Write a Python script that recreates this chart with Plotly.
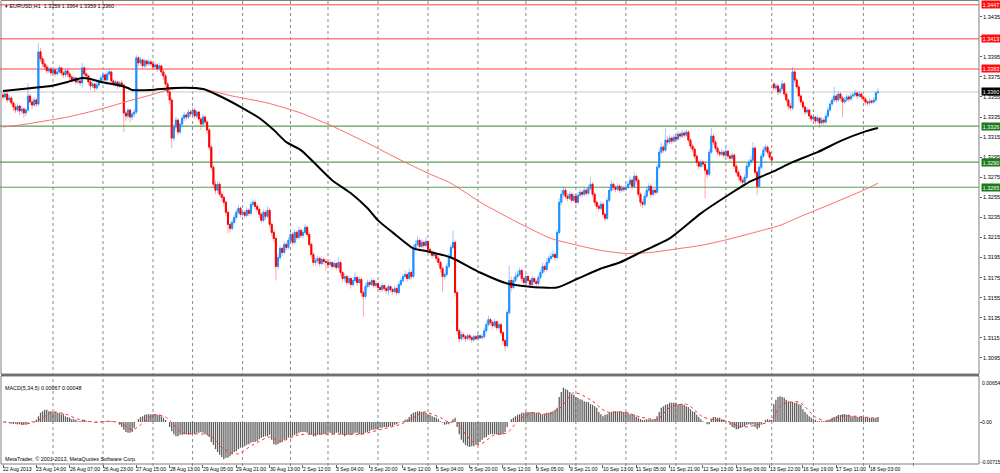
import plotly.graph_objects as go

# ---------------- data (EURUSD H1) ----------------
opens = [
1.3357,1.3355,1.3358,1.3352,1.3354,1.3349,1.3345,1.3342,1.3346,1.3341,
1.3343,1.3339,1.3342,1.3356,1.3350,1.3347,1.3352,1.3348,1.3400,1.3393,
1.3388,1.3385,1.3381,1.3383,1.3379,1.3382,1.3378,1.3380,1.3384,1.3379,
1.3377,1.3381,1.3378,1.3375,1.3372,1.3374,1.3370,1.3371,1.3369,1.3384,
1.3378,1.3376,1.3370,1.3366,1.3368,1.3364,1.3367,1.3371,1.3374,1.3377,
1.3372,1.3378,1.3380,1.3371,1.3368,1.3370,1.3366,1.3369,1.3367,1.3339,
1.3336,1.3342,1.3335,1.3338,1.3340,1.3394,1.3389,1.3392,1.3386,1.3391,
1.3388,1.3390,1.3388,1.3385,1.3387,1.3383,1.3386,1.3380,1.3376,1.3368,
1.3360,1.3352,1.3314,1.3325,1.3332,1.3320,1.3328,1.3334,1.3337,1.3335,
1.3340,1.3338,1.3342,1.3336,1.3340,1.3333,1.3328,1.3335,1.3330,1.3322,
1.3305,1.3285,1.3268,1.3262,1.3268,1.3258,1.3255,1.3250,1.3240,1.3228,
1.3224,1.3230,1.3235,1.3240,1.3244,1.3238,1.3240,1.3237,1.3242,1.3239,
1.3248,1.3250,1.3246,1.3243,1.3238,1.3232,1.3240,1.3236,1.3242,1.3228,
1.3220,1.3214,1.3186,1.3195,1.3204,1.3200,1.3208,1.3205,1.3212,1.3218,
1.3210,1.3220,1.3215,1.3222,1.3217,1.3220,1.3225,1.3218,1.3208,1.3198,
1.3190,1.3192,1.3194,1.3189,1.3193,1.3191,1.3190,1.3188,1.3190,1.3186,
1.3189,1.3185,1.3190,1.3180,1.3174,1.3176,1.3170,1.3174,1.3168,1.3172,
1.3175,1.3170,1.3173,1.3160,1.3156,1.3166,1.3170,1.3168,1.3172,1.3167,
1.3169,1.3165,1.3163,1.3167,1.3164,1.3162,1.3166,1.3163,1.3161,1.3164,
1.3160,1.3168,1.3172,1.3176,1.3178,1.3174,1.3180,1.3176,1.3203,1.3208,
1.3212,1.3206,1.3210,1.3207,1.3211,1.3203,1.3200,1.3197,1.3199,1.3194,
1.3190,1.3184,1.3176,1.3178,1.3186,1.3196,1.3205,1.3210,1.3160,1.3122,
1.3114,1.3118,1.3116,1.3114,1.3117,1.3115,1.3113,1.3116,1.3114,1.3117,
1.3115,1.3116,1.3122,1.3128,1.3133,1.3130,1.3127,1.3131,1.3125,1.3128,
1.3120,1.3112,1.3107,1.3140,1.3172,1.3165,1.3172,1.3176,1.3178,1.3182,
1.3174,1.3170,1.3176,1.3172,1.3168,1.3174,1.3171,1.3169,1.3175,1.3180,
1.3186,1.3183,1.3190,1.3194,1.3196,1.3198,1.3195,1.3220,1.3250,1.3258,
1.3262,1.3256,1.3254,1.3258,1.3252,1.3256,1.3250,1.3257,1.3260,1.3258,
1.3262,1.3259,1.3264,1.3268,1.3258,1.3250,1.3246,1.3244,1.3248,1.3238,
1.3234,1.3252,1.3262,1.3268,1.3265,1.3263,1.3266,1.3262,1.3264,1.3263,
1.3265,1.3268,1.3272,1.3266,1.3276,1.3272,1.3258,1.3250,1.3248,1.3256,
1.3262,1.3266,1.3258,1.3262,1.3260,1.3285,1.3300,1.3305,1.3302,1.3312,
1.3310,1.3314,1.3311,1.3315,1.3313,1.3318,1.3316,1.3319,1.3317,1.3320,
1.3312,1.3306,1.3303,1.3296,1.3290,1.3286,1.3290,1.3288,1.3282,1.3278,
1.3300,1.3316,1.3310,1.3304,1.3300,1.3298,1.3300,1.3297,1.3301,1.3296,
1.3294,1.3297,1.3286,1.3280,1.3276,1.3272,1.3270,1.3275,1.3286,1.3290,
1.3292,1.3304,1.3280,1.3266,1.3285,1.3296,1.3302,1.3305,1.3300,1.3295,
1.3368,1.3364,1.3366,1.3360,1.3363,1.3368,1.3358,1.3352,1.3346,1.3344,
1.3380,1.3372,1.3365,1.3356,1.3350,1.3345,1.3340,1.3342,1.3336,1.3333,
1.3335,1.3331,1.3334,1.3329,1.3332,1.3330,1.3336,1.3342,1.3348,1.3352,
1.3356,1.3352,1.3358,1.3354,1.3350,1.3352,1.3355,1.3353,1.3356,1.3357,
1.3359,1.3356,1.3358,1.3355,1.3353,1.3350,1.3349,1.3351,1.3350,1.3352,
1.3359]

highs = [
1.3360,1.3361,1.3360,1.3357,1.3356,1.3351,1.3348,1.3349,1.3347,1.3346,
1.3345,1.3344,1.3369,1.3358,1.3353,1.3355,1.3354,1.3409,1.3404,1.3396,
1.3391,1.3387,1.3386,1.3385,1.3384,1.3384,1.3383,1.3387,1.3385,1.3381,
1.3383,1.3382,1.3380,1.3377,1.3376,1.3375,1.3373,1.3372,1.3389,1.3386,
1.3380,1.3377,1.3372,1.3371,1.3369,1.3370,1.3373,1.3377,1.3380,1.3378,
1.3381,1.3383,1.3381,1.3373,1.3372,1.3371,1.3371,1.3372,1.3368,1.3342,
1.3344,1.3343,1.3340,1.3343,1.3397,1.3396,1.3395,1.3393,1.3393,1.3392,
1.3393,1.3392,1.3390,1.3390,1.3388,1.3389,1.3387,1.3382,1.3378,1.3370,
1.3362,1.3354,1.3328,1.3335,1.3334,1.3331,1.3337,1.3340,1.3339,1.3343,
1.3342,1.3345,1.3344,1.3342,1.3341,1.3335,1.3338,1.3337,1.3332,1.3324,
1.3307,1.3287,1.3272,1.3271,1.3270,1.3261,1.3257,1.3252,1.3242,1.3231,
1.3233,1.3238,1.3243,1.3247,1.3246,1.3243,1.3242,1.3245,1.3244,1.3251,
1.3253,1.3252,1.3248,1.3245,1.3240,1.3243,1.3242,1.3246,1.3244,1.3230,
1.3223,1.3216,1.3199,1.3207,1.3206,1.3211,1.3210,1.3215,1.3222,1.3220,
1.3223,1.3222,1.3226,1.3224,1.3223,1.3228,1.3227,1.3220,1.3210,1.3200,
1.3195,1.3197,1.3196,1.3196,1.3195,1.3194,1.3192,1.3193,1.3191,1.3192,
1.3190,1.3195,1.3192,1.3182,1.3179,1.3178,1.3177,1.3175,1.3175,1.3180,
1.3177,1.3176,1.3175,1.3162,1.3169,1.3173,1.3172,1.3175,1.3174,1.3172,
1.3171,1.3167,1.3170,1.3168,1.3166,1.3168,1.3167,1.3165,1.3167,1.3166,
1.3171,1.3175,1.3179,1.3182,1.3180,1.3184,1.3182,1.3208,1.3212,1.3216,
1.3214,1.3213,1.3212,1.3215,1.3212,1.3205,1.3202,1.3202,1.3200,1.3196,
1.3192,1.3186,1.3181,1.3189,1.3199,1.3208,1.3222,1.3212,1.3162,1.3124,
1.3121,1.3120,1.3118,1.3119,1.3119,1.3117,1.3118,1.3118,1.3120,1.3118,
1.3119,1.3125,1.3131,1.3137,1.3135,1.3132,1.3134,1.3132,1.3131,1.3130,
1.3122,1.3114,1.3143,1.3187,1.3176,1.3175,1.3180,1.3182,1.3185,1.3184,
1.3176,1.3179,1.3178,1.3174,1.3177,1.3176,1.3173,1.3178,1.3183,1.3190,
1.3188,1.3194,1.3197,1.3200,1.3202,1.3200,1.3223,1.3254,1.3262,1.3266,
1.3264,1.3259,1.3261,1.3260,1.3259,1.3258,1.3260,1.3263,1.3262,1.3265,
1.3264,1.3267,1.3275,1.3270,1.3260,1.3252,1.3249,1.3251,1.3250,1.3240,
1.3255,1.3265,1.3272,1.3270,1.3267,1.3269,1.3268,1.3267,1.3266,1.3268,
1.3271,1.3276,1.3274,1.3280,1.3278,1.3274,1.3260,1.3253,1.3259,1.3265,
1.3269,1.3268,1.3265,1.3264,1.3288,1.3304,1.3309,1.3307,1.3324,1.3316,
1.3317,1.3316,1.3318,1.3317,1.3321,1.3320,1.3322,1.3321,1.3323,1.3322,
1.3314,1.3308,1.3305,1.3298,1.3292,1.3293,1.3292,1.3290,1.3284,1.3303,
1.3324,1.3318,1.3312,1.3306,1.3302,1.3303,1.3302,1.3304,1.3302,1.3298,
1.3300,1.3299,1.3288,1.3282,1.3278,1.3274,1.3278,1.3289,1.3293,1.3296,
1.3310,1.3306,1.3282,1.3288,1.3299,1.3306,1.3308,1.3307,1.3302,1.3297,
1.3370,1.3369,1.3368,1.3366,1.3372,1.3370,1.3360,1.3354,1.3349,1.3385,
1.3382,1.3374,1.3367,1.3358,1.3352,1.3347,1.3345,1.3343,1.3338,1.3338,
1.3336,1.3337,1.3335,1.3335,1.3334,1.3339,1.3345,1.3351,1.3355,1.3365,
1.3358,1.3361,1.3360,1.3356,1.3355,1.3358,1.3357,1.3359,1.3360,1.3362,
1.3361,1.3361,1.3360,1.3357,1.3355,1.3352,1.3354,1.3353,1.3355,1.3361,
1.3364]

lows = [
1.3352,1.3353,1.3349,1.3350,1.3347,1.3341,1.3339,1.3340,1.3337,1.3338,
1.3334,1.3336,1.3340,1.3347,1.3343,1.3345,1.3345,1.3346,1.3390,1.3385,
1.3382,1.3378,1.3379,1.3376,1.3377,1.3375,1.3376,1.3378,1.3376,1.3374,
1.3375,1.3375,1.3372,1.3369,1.3370,1.3367,1.3368,1.3366,1.3364,1.3375,
1.3373,1.3367,1.3362,1.3364,1.3360,1.3362,1.3365,1.3369,1.3372,1.3369,
1.3370,1.3376,1.3369,1.3366,1.3365,1.3363,1.3364,1.3365,1.3320,1.3331,
1.3333,1.3330,1.3332,1.3335,1.3338,1.3386,1.3387,1.3383,1.3384,1.3385,
1.3386,1.3385,1.3382,1.3383,1.3380,1.3381,1.3377,1.3372,1.3365,1.3356,
1.3348,1.3304,1.3311,1.3322,1.3317,1.3318,1.3326,1.3331,1.3332,1.3333,
1.3335,1.3336,1.3333,1.3334,1.3330,1.3322,1.3326,1.3327,1.3318,1.3302,
1.3282,1.3264,1.3258,1.3259,1.3255,1.3251,1.3246,1.3236,1.3219,1.3220,
1.3222,1.3228,1.3233,1.3238,1.3235,1.3236,1.3234,1.3235,1.3236,1.3237,
1.3245,1.3243,1.3240,1.3234,1.3229,1.3230,1.3233,1.3234,1.3225,1.3216,
1.3210,1.3172,1.3183,1.3192,1.3196,1.3198,1.3202,1.3203,1.3210,1.3207,
1.3208,1.3212,1.3213,1.3214,1.3214,1.3218,1.3215,1.3205,1.3194,1.3186,
1.3187,1.3189,1.3186,1.3187,1.3188,1.3182,1.3185,1.3186,1.3183,1.3184,
1.3182,1.3183,1.3177,1.3170,1.3171,1.3167,1.3168,1.3164,1.3166,1.3170,
1.3167,1.3168,1.3156,1.3136,1.3154,1.3164,1.3165,1.3166,1.3164,1.3165,
1.3162,1.3160,1.3161,1.3161,1.3159,1.3157,1.3160,1.3158,1.3159,1.3157,
1.3158,1.3166,1.3170,1.3174,1.3171,1.3172,1.3173,1.3174,1.3201,1.3206,
1.3203,1.3204,1.3204,1.3205,1.3200,1.3197,1.3194,1.3195,1.3191,1.3187,
1.3180,1.3160,1.3173,1.3176,1.3184,1.3194,1.3203,1.3156,1.3118,1.3110,
1.3112,1.3113,1.3111,1.3112,1.3112,1.3110,1.3111,1.3112,1.3112,1.3113,
1.3113,1.3114,1.3120,1.3126,1.3127,1.3124,1.3125,1.3122,1.3123,1.3117,
1.3108,1.3102,1.3105,1.3138,1.3161,1.3163,1.3170,1.3174,1.3176,1.3171,
1.3167,1.3168,1.3169,1.3165,1.3166,1.3168,1.3166,1.3167,1.3173,1.3178,
1.3180,1.3181,1.3188,1.3192,1.3194,1.3192,1.3193,1.3218,1.3247,1.3255,
1.3253,1.3251,1.3252,1.3249,1.3250,1.3247,1.3248,1.3255,1.3255,1.3256,
1.3257,1.3257,1.3262,1.3255,1.3247,1.3243,1.3241,1.3242,1.3235,1.3231,
1.3232,1.3250,1.3260,1.3262,1.3260,1.3261,1.3259,1.3260,1.3260,1.3261,
1.3263,1.3266,1.3263,1.3264,1.3269,1.3255,1.3246,1.3244,1.3246,1.3254,
1.3260,1.3255,1.3256,1.3257,1.3258,1.3283,1.3298,1.3299,1.3300,1.3307,
1.3308,1.3308,1.3309,1.3310,1.3311,1.3313,1.3314,1.3314,1.3315,1.3309,
1.3303,1.3300,1.3293,1.3286,1.3283,1.3284,1.3285,1.3254,1.3274,1.3276,
1.3298,1.3307,1.3301,1.3297,1.3295,1.3296,1.3294,1.3295,1.3293,1.3291,
1.3292,1.3283,1.3277,1.3272,1.3269,1.3266,1.3268,1.3273,1.3284,1.3287,
1.3290,1.3277,1.3257,1.3264,1.3283,1.3294,1.3300,1.3297,1.3292,1.3289,
1.3361,1.3362,1.3357,1.3358,1.3361,1.3355,1.3349,1.3342,1.3341,1.3342,
1.3369,1.3362,1.3352,1.3347,1.3342,1.3337,1.3338,1.3333,1.3330,1.3331,
1.3328,1.3329,1.3324,1.3327,1.3327,1.3328,1.3334,1.3340,1.3346,1.3350,
1.3349,1.3350,1.3351,1.3335,1.3348,1.3350,1.3350,1.3351,1.3354,1.3355,
1.3353,1.3354,1.3352,1.3350,1.3347,1.3346,1.3347,1.3348,1.3348,1.3350,
1.3359]

closes = [
1.3355,1.3358,1.3352,1.3354,1.3349,1.3345,1.3342,1.3346,1.3341,1.3343,
1.3339,1.3342,1.3356,1.3350,1.3347,1.3352,1.3348,1.3400,1.3393,1.3388,
1.3385,1.3381,1.3383,1.3379,1.3382,1.3378,1.3380,1.3384,1.3379,1.3377,
1.3381,1.3378,1.3375,1.3372,1.3374,1.3370,1.3371,1.3369,1.3384,1.3378,
1.3376,1.3370,1.3366,1.3368,1.3364,1.3367,1.3371,1.3374,1.3377,1.3372,
1.3378,1.3380,1.3371,1.3368,1.3370,1.3366,1.3369,1.3367,1.3339,1.3336,
1.3342,1.3335,1.3338,1.3340,1.3394,1.3389,1.3392,1.3386,1.3391,1.3388,
1.3390,1.3388,1.3385,1.3387,1.3383,1.3386,1.3380,1.3376,1.3368,1.3360,
1.3352,1.3314,1.3325,1.3332,1.3320,1.3328,1.3334,1.3337,1.3335,1.3340,
1.3338,1.3342,1.3336,1.3340,1.3333,1.3328,1.3335,1.3330,1.3322,1.3305,
1.3285,1.3268,1.3262,1.3268,1.3258,1.3255,1.3250,1.3240,1.3228,1.3224,
1.3230,1.3235,1.3240,1.3244,1.3238,1.3240,1.3237,1.3242,1.3239,1.3248,
1.3250,1.3246,1.3243,1.3238,1.3232,1.3240,1.3236,1.3242,1.3228,1.3220,
1.3214,1.3186,1.3195,1.3204,1.3200,1.3208,1.3205,1.3212,1.3218,1.3210,
1.3220,1.3215,1.3222,1.3217,1.3220,1.3225,1.3218,1.3208,1.3198,1.3190,
1.3192,1.3194,1.3189,1.3193,1.3191,1.3190,1.3188,1.3190,1.3186,1.3189,
1.3185,1.3190,1.3180,1.3174,1.3176,1.3170,1.3174,1.3168,1.3172,1.3175,
1.3170,1.3173,1.3160,1.3156,1.3166,1.3170,1.3168,1.3172,1.3167,1.3169,
1.3165,1.3163,1.3167,1.3164,1.3162,1.3166,1.3163,1.3161,1.3164,1.3160,
1.3168,1.3172,1.3176,1.3178,1.3174,1.3180,1.3176,1.3203,1.3208,1.3212,
1.3206,1.3210,1.3207,1.3211,1.3203,1.3200,1.3197,1.3199,1.3194,1.3190,
1.3184,1.3176,1.3178,1.3186,1.3196,1.3205,1.3210,1.3160,1.3122,1.3114,
1.3118,1.3116,1.3114,1.3117,1.3115,1.3113,1.3116,1.3114,1.3117,1.3115,
1.3116,1.3122,1.3128,1.3133,1.3130,1.3127,1.3131,1.3125,1.3128,1.3120,
1.3112,1.3107,1.3140,1.3172,1.3165,1.3172,1.3176,1.3178,1.3182,1.3174,
1.3170,1.3176,1.3172,1.3168,1.3174,1.3171,1.3169,1.3175,1.3180,1.3186,
1.3183,1.3190,1.3194,1.3196,1.3198,1.3195,1.3220,1.3250,1.3258,1.3262,
1.3256,1.3254,1.3258,1.3252,1.3256,1.3250,1.3257,1.3260,1.3258,1.3262,
1.3259,1.3264,1.3268,1.3258,1.3250,1.3246,1.3244,1.3248,1.3238,1.3234,
1.3252,1.3262,1.3268,1.3265,1.3263,1.3266,1.3262,1.3264,1.3263,1.3265,
1.3268,1.3272,1.3266,1.3276,1.3272,1.3258,1.3250,1.3248,1.3256,1.3262,
1.3266,1.3258,1.3262,1.3260,1.3285,1.3300,1.3305,1.3302,1.3312,1.3310,
1.3314,1.3311,1.3315,1.3313,1.3318,1.3316,1.3319,1.3317,1.3320,1.3312,
1.3306,1.3303,1.3296,1.3290,1.3286,1.3290,1.3288,1.3282,1.3278,1.3300,
1.3316,1.3310,1.3304,1.3300,1.3298,1.3300,1.3297,1.3301,1.3296,1.3294,
1.3297,1.3286,1.3280,1.3276,1.3272,1.3270,1.3275,1.3286,1.3290,1.3292,
1.3304,1.3280,1.3266,1.3285,1.3296,1.3302,1.3305,1.3300,1.3295,1.3292,
1.3364,1.3366,1.3360,1.3363,1.3368,1.3358,1.3352,1.3346,1.3344,1.3380,
1.3372,1.3365,1.3356,1.3350,1.3345,1.3340,1.3342,1.3336,1.3333,1.3335,
1.3331,1.3334,1.3329,1.3332,1.3330,1.3336,1.3342,1.3348,1.3352,1.3356,
1.3352,1.3358,1.3354,1.3350,1.3352,1.3355,1.3353,1.3356,1.3357,1.3359,
1.3356,1.3358,1.3355,1.3353,1.3350,1.3349,1.3351,1.3350,1.3352,1.3359,
1.3360]

macd = [
0,0.0001,0,-0.0001,-0.0001,-0.0003,-0.0001,-0.0003,-0.0003,
-0.0004,-0.0004,-0.0004,
-0.0001,0,0.0001,0,
0.0003,0.0008,0.0013,0.0015,0.0017,
0.0017,0.0015,
0.0015,0.0014,0.0014,0.0013,0.0013,0.0011,0.0011,
0.0008,0.0007,0.0006,0.0004,0.0004,
0.0003,0.0001,0.0001,0.0003,0.0003,0.0001,0.0001,
0,0,-0.0001,-0.0001,0,-0.0001,0,
0.0001,0.0001,0.0001,0.0001,0,0.0001,0,
-0.0004,-0.0007,-0.0011,-0.0014,-0.0015,
-0.0015,-0.0014,-0.0008,0,
0.0004,0.0007,0.0008,0.0010,
0.0011,0.0011,0.0011,0.0011,0.0011,0.0010,0.0010,0.0008,
0.0006,0.0003,0,
-0.0007,-0.0013,-0.0017,
-0.0020,-0.0020,-0.0018,-0.0018,-0.0017,-0.0017,-0.0018,-0.0017,-0.0017,-0.0017,-0.0015,-0.0015,
-0.0014,-0.0015,-0.0017,-0.0018,-0.0021,
-0.0028,-0.0032,-0.0038,-0.0042,-0.0046,-0.0049,-0.0052,
-0.0050,-0.0050,-0.0048,-0.0045,-0.0042,-0.0041,-0.0038,
-0.0036,-0.0035,-0.0034,-0.0032,-0.0031,-0.0029,-0.0028,-0.0028,-0.0027,
-0.0024,-0.0022,-0.0021,-0.0020,-0.0020,-0.0018,
-0.0025,-0.0031,-0.0032,-0.0031,
-0.0029,-0.0028,-0.0025,-0.0024,-0.0022,
-0.0021,-0.0020,-0.0018,-0.0017,-0.0015,
-0.0014,-0.0014,-0.0014,-0.0015,-0.0017,-0.0018,
-0.0020,-0.0020,-0.0018,-0.0018,-0.0017,-0.0017,-0.0017,-0.0015,-0.0015,-0.0017,-0.0017,-0.0015,-0.0015,
-0.0017,-0.0018,-0.0020,-0.0018,-0.0018,-0.0017,-0.0017,
-0.0015,-0.0015,-0.0017,-0.0018,-0.0017,-0.0015,-0.0014,
-0.0013,-0.0011,-0.0011,-0.0010,-0.0010,-0.0008,-0.0008,-0.0007,-0.0007,-0.0007,
-0.0006,-0.0006,-0.0004,-0.0003,-0.0001,
0,0.0001,0.0003,0.0004,0.0007,
0.0011,0.0013,0.0014,0.0015,0.0015,0.0014,0.0014,
0.0013,0.0011,0.0010,0.0008,0.0007,0.0006,0.0004,
0.0001,-0.0001,-0.0004,
-0.0003,-0.0003,-0.0001,
0.0004,0.0006,
-0.0007,-0.0017,
-0.0025,-0.0029,-0.0032,-0.0034,-0.0035,
-0.0034,-0.0034,-0.0032,-0.0031,
-0.0028,-0.0025,-0.0022,-0.0021,-0.0018,-0.0017,-0.0017,
-0.0017,-0.0017,-0.0018,-0.0018,-0.0017,
-0.0014,-0.0007,0,
0.0004,0.0006,0.0008,0.0010,0.0011,
0.0013,0.0013,0.0014,0.0014,0.0014,0.0014,0.0013,0.0013,0.0013,
0.0011,0.0011,0.0011,0.0013,0.0013,
0.0014,0.0015,0.0017,0.0020,
0.0035,0.0042,0.0048,
0.0046,0.0045,0.0042,0.0039,0.0038,
0.0035,0.0034,0.0032,0.0031,0.0029,0.0028,0.0028,
0.0025,0.0024,0.0022,0.0020,
0.0014,0.0011,0.0008,
0.0010,0.0011,0.0013,0.0014,0.0015,0.0015,0.0015,0.0015,
0.0014,0.0014,0.0013,0.0013,0.0011,0.0011,0.0010,
0.0007,0.0006,0.0004,
0.0003,0.0003,0.0004,0.0003,0.0004,0.0004,0.0004,
0.0008,0.0014,
0.0020,0.0022,0.0024,0.0025,0.0027,
0.0027,0.0027,0.0027,0.0025,0.0025,0.0025,0.0024,
0.0022,0.0021,0.0018,0.0015,0.0014,
0.0010,0.0007,0.0004,0.0001,0,
-0.0003,-0.0003,
0.0004,0.0007,0.0007,0.0006,0.0006,
0.0004,0.0003,0.0001,0,
-0.0004,-0.0007,-0.0008,-0.0010,-0.0010,
-0.0008,-0.0007,-0.0006,-0.0004,-0.0003,-0.0004,-0.0003,
-0.0007,-0.0010,-0.0008,
-0.0004,0,0.0003,0.0004,0.0003,0.0003,
0.0025,0.0031,0.0035,
0.0036,0.0035,0.0034,0.0031,
0.0029,0.0028,0.0028,0.0027,0.0027,0.0025,0.0024,
0.0018,0.0014,0.0011,0.0008,
0.0006,0.0004,0.0003,0.0001,0.0001,0.0001,0.0001,
0.0001,0.0003,0.0004,0.0006,0.0007,
0.0008,0.0010,0.0010,0.0011,0.0011,0.0010,0.0010,
0.0008,0.0008,0.0008,0.0007,0.0007,0.0007,0.0007,0.0007,0.0006,
0.0006,0.0006,0.0005,0.0006,0.0007]

signal_idx = [0,10,14,18,24,30,36,44,52,58,62,66,72,78,82,86,96,100,106,112,
              120,128,133,142,150,162,172,182,190,196,202,210,214,218,222,228,236,242,248,254,
              262,268,274,282,290,298,306,314,320,328,336,342,348,354,362,368,374,382,390,396,
              402,410,420]
signal_val = [0,-0.0003,-0.0001,0.0004,0.0014,0.0011,0.0004,0,0.0001,-0.0004,
              -0.0011,-0.0004,0.0010,0.0007,-0.0004,-0.0015,-0.0017,-0.0020,-0.0038,-0.0045,
              -0.0032,-0.0021,-0.0027,-0.0018,-0.0017,-0.0017,-0.0017,-0.0010,-0.0004,0.0004,
              0.0014,0.0006,0,0,-0.0017,-0.0032,-0.0018,-0.0015,0.0004,0.0013,
              0.0011,0.0021,0.0041,0.0031,0.0014,0.0014,0.0007,0.0004,0.0020,0.0025,
              0.0007,0.0003,0.0001,-0.0007,-0.0004,0.0001,0.0024,0.0028,0.0007,0.0001,
              0.0008,0.0008,0.00048]

ma_black_idx = [0,14,23,31,38,42,47,55,60,62,71,82,96,103,115,123,130,136,143,158,
                167,175,180,187,197,204,215,229,242,252,258,266,276,287,296,306,320,335,348,359,
                369,379,391,403,413,420]
ma_black_val = [1.3361,1.3364,1.3366,1.3370,1.3374,1.3373,1.3370,1.3367,1.3364,1.3362,
                1.3362,1.3364,1.3363,1.3357,1.3344,1.3334,1.3322,1.3310,1.3302,1.3272,
                1.3259,1.3244,1.3232,1.3220,1.3204,1.3201,1.3195,1.3180,1.3169,1.3166,
                1.3165,1.3165,1.3174,1.3184,1.3190,1.3200,1.3214,1.3239,1.3257,1.3271,
                1.3280,1.3290,1.3300,1.3312,1.3320,1.3324]

ma_red_idx = [0,8,14,31,47,62,71,79,87,98,110,127,143,158,175,191,204,215,230,247,
              263,276,287,299,311,325,335,346,359,373,383,396,413,420]
ma_red_val = [1.3325,1.3327,1.3329,1.3335,1.3343,1.3352,1.3357,1.3362,1.3364,1.3362,
              1.3356,1.3349,1.3339,1.3326,1.3309,1.3292,1.3279,1.3269,1.3249,1.3230,
              1.3214,1.3207,1.3202,1.3199,1.3200,1.3204,1.3207,1.3212,1.3219,1.3227,
              1.3236,1.3247,1.3262,1.3269]

time_labels = ["22 Aug 2013", "23 Aug 14:00", "26 Aug 07:00", "26 Aug 23:00", "27 Aug 15:00",
               "28 Aug 13:00", "29 Aug 05:00", "29 Aug 21:00", "30 Aug 13:00", "2 Sep 12:00",
               "3 Sep 04:00", "3 Sep 20:00", "4 Sep 12:00", "5 Sep 04:00", "5 Sep 20:00",
               "6 Sep 12:00", "9 Sep 05:00", "9 Sep 21:00", "10 Sep 13:00", "11 Sep 05:00",
               "11 Sep 21:00", "12 Sep 13:00", "13 Sep 06:00", "13 Sep 22:00", "16 Sep 19:00",
               "17 Sep 11:00", "18 Sep 03:00"]
time_label_idx = [0, 16, 32, 48, 64, 80, 96, 112, 128, 144, 160, 176, 192, 208, 224,
                  240, 256, 272, 288, 304, 320, 336, 352, 368, 384, 400, 416]
day_grid_idx = [24, 48, 72, 91, 115, 138, 156, 180, 204, 228, 251, 275, 299, 323, 347,
                369, 389, 413, 437]

price_ticks = [1.3435, 1.3415, 1.3395, 1.3375, 1.3355, 1.3335, 1.3315, 1.3295, 1.3275, 1.3255,
               1.3235, 1.3215, 1.3195, 1.3175, 1.3155, 1.3135, 1.3115, 1.3095, 1.3075]
resistance_levels = [1.3447, 1.3413, 1.3383]
current_price = 1.3360
support_levels = [1.3326, 1.3290, 1.3265]
macd_labels = ["0.00654", "0.00", "-0.00715"]

# ---------------- figure ----------------
FONT = "Liberation Sans"
n = len(closes)
x = list(range(n))
body_hi = [max(o, c) for o, c in zip(opens, closes)]
body_lo = [min(o, c) for o, c in zip(opens, closes)]

fig = go.Figure()

# wicks (light)
fig.add_trace(go.Candlestick(
    x=x, open=opens, high=highs, low=lows, close=closes,
    increasing=dict(line=dict(color="rgba(30,144,255,0.45)", width=1), fillcolor="rgba(30,144,255,0.45)"),
    decreasing=dict(line=dict(color="rgba(255,40,40,0.40)", width=1), fillcolor="rgba(255,40,40,0.40)"),
    whiskerwidth=0, hoverinfo="skip", xaxis="x", yaxis="y"))
# bodies (strong)
fig.add_trace(go.Candlestick(
    x=x, open=opens, high=body_hi, low=body_lo, close=closes,
    increasing=dict(line=dict(color="#1E90FF", width=1), fillcolor="#1E90FF"),
    decreasing=dict(line=dict(color="#FF0000", width=1), fillcolor="#FF0000"),
    whiskerwidth=0, hoverinfo="skip", xaxis="x", yaxis="y"))

fig.add_trace(go.Scatter(x=ma_red_idx, y=ma_red_val, mode="lines",
                         line=dict(color="#FF6A6A", width=1, shape="spline", smoothing=0.6),
                         hoverinfo="skip", xaxis="x", yaxis="y"))
fig.add_trace(go.Scatter(x=ma_black_idx, y=ma_black_val, mode="lines",
                         line=dict(color="#000000", width=2, shape="spline", smoothing=0.6),
                         hoverinfo="skip", xaxis="x", yaxis="y"))

# MACD
fig.add_trace(go.Bar(x=x, y=macd, width=0.62, marker=dict(color="#5E5E5E", line=dict(width=0)),
                     hoverinfo="skip", xaxis="x", yaxis="y2"))
fig.add_trace(go.Scatter(x=signal_idx, y=signal_val, mode="lines",
                         line=dict(color="#FF3030", width=1, dash="dot", shape="spline", smoothing=0.8),
                         hoverinfo="skip", xaxis="x", yaxis="y2"))

def py(px):
    return 1 - px / 473.0

XR = 0.979
shapes = []
# vertical dotted day grid
for gi in day_grid_idx:
    shapes.append(dict(type="line", xref="x", yref="paper", x0=gi, x1=gi, y0=py(466), y1=1,
                       line=dict(color="#8a8a8a", width=1, dash="dot"), layer="below"))
# level lines
for lv in resistance_levels:
    shapes.append(dict(type="line", xref="paper", yref="y", x0=0, x1=XR, y0=lv, y1=lv,
                       line=dict(color="#FF8080", width=1.5), layer="below"))
shapes.append(dict(type="line", xref="paper", yref="y", x0=0, x1=XR, y0=current_price, y1=current_price,
                   line=dict(color="#C8C8C8", width=1), layer="below"))
for lv in support_levels:
    shapes.append(dict(type="line", xref="paper", yref="y", x0=0, x1=XR, y0=lv, y1=lv,
                       line=dict(color="#5A9E5A", width=1.2), layer="below"))
# borders
shapes.append(dict(type="rect", xref="paper", yref="paper", x0=0.001, x1=XR, y0=py(374), y1=py(0.5),
                   line=dict(color="#808080", width=1)))
shapes.append(dict(type="rect", xref="paper", yref="paper", x0=0.001, x1=XR, y0=py(464), y1=py(376),
                   line=dict(color="#808080", width=1)))
shapes.append(dict(type="line", xref="paper", yref="paper", x0=0.001, x1=XR, y0=py(375), y1=py(375),
                   line=dict(color="#707070", width=2)))

ann = []
tick_font = dict(family=FONT, size=5.6, color="#000000")
time_font = dict(family=FONT, size=5.1, color="#000000")
text_font = dict(family=FONT, size=5.4, color="#000000")
box_font = dict(family=FONT, size=5.4, color="white")
for v in price_ticks:
    ann.append(dict(x=0.9815, xref="paper", y=v, yref="y", text=f"{v:.4f}", showarrow=False,
                    xanchor="left", yanchor="middle", font=tick_font, borderpad=0))
for lv in resistance_levels:
    ann.append(dict(x=0.9805, xref="paper", y=lv, yref="y", text=f"{lv:.4f}", showarrow=False,
                    xanchor="left", yanchor="middle", bgcolor="#FF1010", width=18, height=7,
                    borderpad=0, font=box_font))
ann.append(dict(x=0.9805, xref="paper", y=current_price, yref="y", text=f"{current_price:.4f}",
                showarrow=False, xanchor="left", yanchor="middle", bgcolor="#000000", width=18,
                height=7, borderpad=0, font=box_font))
for lv in support_levels:
    ann.append(dict(x=0.9805, xref="paper", y=lv, yref="y", text=f"{lv:.4f}", showarrow=False,
                    xanchor="left", yanchor="middle", bgcolor="#1B7A1B", width=18, height=7,
                    borderpad=0, font=box_font))
for idx, lab in zip(time_label_idx, time_labels):
    ann.append(dict(x=idx, xref="x", y=py(469), yref="paper", text=lab, showarrow=False,
                    xanchor="left", yanchor="middle", xshift=-1, font=time_font, borderpad=0))
# MACD scale labels
ann.append(dict(x=0.9805, xref="paper", y=py(383), yref="paper", text=macd_labels[0], showarrow=False,
                xanchor="left", yanchor="middle", font=time_font, borderpad=0))
ann.append(dict(x=0.9805, xref="paper", y=0, yref="y2", text=macd_labels[1], showarrow=False,
                xanchor="left", yanchor="middle", font=time_font, borderpad=0))
ann.append(dict(x=0.9795, xref="paper", y=py(462), yref="paper", text=macd_labels[2], showarrow=False,
                xanchor="left", yanchor="middle", font=dict(family=FONT, size=4.9, color="#000000"),
                borderpad=0))
# texts
ann.append(dict(x=0.003, xref="paper", y=py(6), yref="paper",
                text="▾ EURUSD,H1  1.3359 1.3364 1.3359 1.3360", showarrow=False,
                xanchor="left", yanchor="middle", font=text_font))
ann.append(dict(x=0.003, xref="paper", y=py(388), yref="paper",
                text="MACD(5,34,5) 0.00067 0.00048", showarrow=False,
                xanchor="left", yanchor="middle", font=text_font))
ann.append(dict(x=0.003, xref="paper", y=py(459), yref="paper",
                text="MetaTrader, © 2001-2013, MetaQuotes Software Corp.", showarrow=False,
                xanchor="left", yanchor="middle", font=text_font))

fig.update_layout(
    width=1000, height=473, margin=dict(l=0, r=0, t=0, b=0),
    paper_bgcolor="white", plot_bgcolor="white", showlegend=False, hovermode=False,
    barmode="overlay", boxmode="overlay",
    xaxis=dict(domain=[0, XR], range=[-1.44, 468.5], anchor="y2", showgrid=False, zeroline=False,
               showticklabels=False, tickvals=time_label_idx, ticks="outside", ticklen=3,
               tickcolor="#606060", showline=False, rangeslider=dict(visible=False), fixedrange=True),
    yaxis=dict(domain=[py(374), 1], range=[1.30788, 1.34517], side="right", anchor="x",
               showgrid=False, zeroline=False, showticklabels=False, tickvals=price_ticks,
               ticks="outside", ticklen=2, tickcolor="#606060", showline=False, fixedrange=True),
    yaxis2=dict(domain=[py(464), py(376)], range=[-0.00588, 0.00644], side="right", anchor="x",
                showgrid=False, zeroline=False, showticklabels=False, tickvals=[0],
                ticks="outside", ticklen=2, tickcolor="#606060", showline=False, fixedrange=True),
    shapes=shapes, annotations=ann,
)

fig.write_html("out.html", config=dict(displayModeBar=False, staticPlot=True),
               post_script="document.body.style.margin='0';document.body.style.overflow='hidden';")
